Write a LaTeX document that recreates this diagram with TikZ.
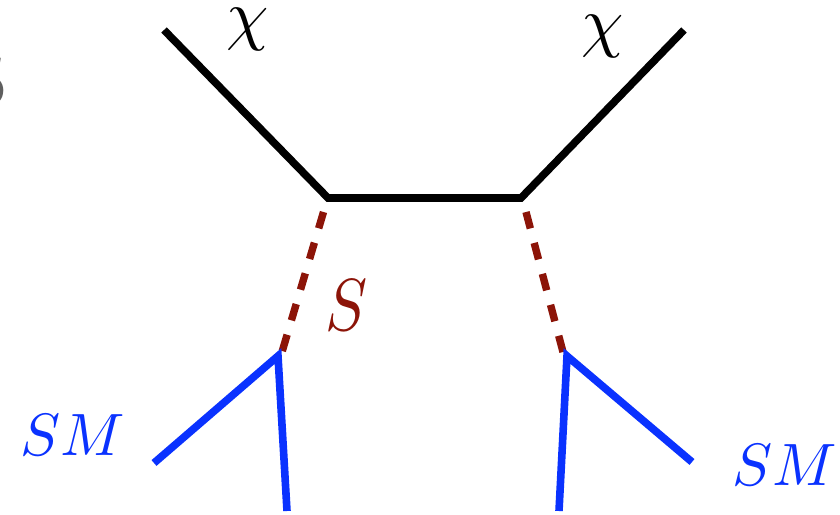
\documentclass[tikz,border=0pt]{standalone}
\definecolor{dkred}{RGB}{140,20,8}
\definecolor{smblue}{RGB}{10,50,255}
\definecolor{ggray}{RGB}{95,95,95}
\tikzset{
  fermion/.style={line width=7.6bp,black,line join=miter},
  scalar/.style={line width=7.4bp,dkred,dash pattern=on 17bp off 15bp},
  smline/.style={line width=7.6bp,smblue,line join=miter},
  lab/.style={inner sep=0pt,outer sep=0pt,anchor=center}
}
\begin{document}
\begin{tikzpicture}[x=1bp,y=-1bp]
\useasboundingbox (0,0) rectangle (840,515);
\coordinate (a) at (164,30);
\coordinate (b) at (328,198);
\coordinate (c) at (521,198);
\coordinate (d) at (684,30);
\coordinate (e) at (323.5,212);
\coordinate (f) at (282,352);
\coordinate (g) at (526,212);
\coordinate (h) at (563,352);
\coordinate (f2) at (278,356);
\coordinate (h2) at (567,356);
\coordinate (i) at (154,463);
\coordinate (j) at (287,511);
\coordinate (k) at (559,511);
\coordinate (l) at (692,462);
\draw[fermion] (a) -- (b) -- (c) -- (d);
\draw[scalar] (e) -- (f);
\draw[scalar] (g) -- (h);
\draw[smline] (i) -- (f2) -- (j);
\draw[smline] (k) -- (h2) -- (l);
\node[lab,scale=6.8] (chi1) at (248,30) {$\chi$};
\node[lab,scale=6.8] (chi2) at (603,37) {$\chi$};
\node[lab,xscale=6.3,yscale=7.4,text=dkred] (s) at (347,305) {$S$};
\node[lab,scale=6,text=smblue] (sm1) at (73,435) {$SM$};
\node[lab,scale=6,text=smblue] (sm2) at (785,465) {$SM$};
\node[lab,scale=7,text=ggray,font=\sffamily\bfseries] (cut) at (-13,80) {S};
\end{tikzpicture}
\end{document}
